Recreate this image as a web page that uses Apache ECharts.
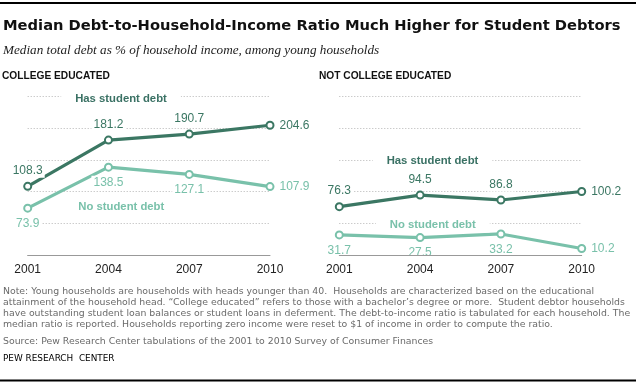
<!DOCTYPE html>
<html>
<head>
<meta charset="utf-8">
<script src="https://cdn.jsdelivr.net/npm/echarts@6/dist/echarts.min.js"></script>
<style>
html,body{margin:0;padding:0;background:#fff;}
#chart{width:636px;height:385px;}
</style>
</head>
<body>
<div id="chart"></div>
<script>
// ---- data ----
var years = ['2001', '2004', '2007', '2010'];
var collegeHasDebt = [108.3, 181.2, 190.7, 204.6];
var collegeNoDebt = [73.9, 138.5, 127.1, 107.9];
var nonCollegeHasDebt = [76.3, 94.5, 86.8, 100.2];
var nonCollegeNoDebt = [31.7, 27.5, 33.2, 10.2];
var seriesNames = ['Has student debt', 'No student debt'];
var yTicks = [0, 50, 100, 150, 200, 250];

var DARK = '#3b7763';
var LIGHT = '#79c1aa';
var SANS = '"Liberation Sans", Arial, sans-serif';

var chart = echarts.init(document.getElementById('chart'), null, {renderer: 'canvas'});

function lineSeries(name, data, color, idx, above) {
  return {
    name: name,
    type: 'line',
    xAxisIndex: idx,
    yAxisIndex: idx,
    data: data.map(function (v, i) {
      var last = i === data.length - 1;
      return {
        value: v,
        label: {position: last ? 'right' : (above ? 'top' : 'bottom'), distance: last ? 3 : 4}
      };
    }),
    lineStyle: {color: color, width: 3.2},
    itemStyle: {color: '#fff', borderColor: color, borderWidth: 2},
    symbol: 'circle',
    symbolSize: 7,
    showAllSymbol: true,
    z: 3,
    label: {
      show: true,
      color: color,
      fontFamily: SANS,
      fontSize: 12,
      backgroundColor: '#fff',
      padding: [1, 2],
      formatter: function (p) { return p.value.toFixed(1); }
    },
    animation: false
  };
}

function xAxis(idx) {
  return {
    type: 'category',
    gridIndex: idx,
    data: years,
    boundaryGap: false,
    z: 10,
    axisLine: {lineStyle: {color: '#999', width: 1}},
    axisTick: {show: false},
    axisLabel: {color: '#222', fontFamily: SANS, fontSize: 12, margin: 9}
  };
}
function yAxis(idx) {
  return {
    type: 'value',
    gridIndex: idx,
    min: yTicks[0],
    max: yTicks[yTicks.length - 1],
    interval: yTicks[1] - yTicks[0],
    axisLine: {show: false},
    axisTick: {show: false},
    axisLabel: {show: false},
    splitLine: {show: true, lineStyle: {color: '#b5b5b5', type: [1, 2], width: 1}}
  };
}

function txt(text, x, y, opts) {
  var s = Object.assign({
    text: text,
    x: x, y: y,
    fill: '#000',
    font: '12px ' + SANS,
    textAlign: 'left',
    textVerticalAlign: 'middle'
  }, opts || {});
  return {type: 'text', z: 50, style: s};
}

var notes = 'Note: Young households are households with heads younger than 40.  Households are characterized based on the educational\n' +
  'attainment of the household head. \u201cCollege educated\u201d refers to those with a bachelor\u2019s degree or more.  Student debtor households\n' +
  'have outstanding student loan balances or student loans in deferment. The debt-to-income ratio is tabulated for each household. The\n' +
  'median ratio is reported. Households reporting zero income were reset to $1 of income in order to compute the ratio.';

var option = {
  backgroundColor: '#fff',
  animation: false,
  grid: [
    {left: 27.7, top: 96.5, width: 242.3, height: 158.5},
    {left: 339.3, top: 96.5, width: 242.4, height: 158.5}
  ],
  xAxis: [xAxis(0), xAxis(1)],
  yAxis: [yAxis(0), yAxis(1)],
  series: [
    lineSeries(seriesNames[0], collegeHasDebt, DARK, 0, true),
    lineSeries(seriesNames[1], collegeNoDebt, LIGHT, 0, false),
    lineSeries(seriesNames[0], nonCollegeHasDebt, DARK, 1, true),
    lineSeries(seriesNames[1], nonCollegeNoDebt, LIGHT, 1, false)
  ],
  graphic: [
    {type: 'rect', z: 50, shape: {x: 0, y: 2, width: 636, height: 2}, style: {fill: '#000'}},
    {type: 'rect', z: 50, shape: {x: 0, y: 379.5, width: 636, height: 2}, style: {fill: '#000'}},
    txt('Median Debt-to-Household-Income Ratio Much Higher for Student Debtors', 3, 26,
      {font: 'bold 14.7px "DejaVu Sans", sans-serif', fill: '#111'}),
    txt('Median total debt as % of household income, among young households', 3, 51,
      {font: 'italic 13.2px "Liberation Serif", serif', fill: '#222'}),
    txt('COLLEGE EDUCATED', 2, 76, {font: 'bold 10.2px ' + SANS, fill: '#111'}),
    txt('NOT COLLEGE EDUCATED', 319, 76, {font: 'bold 10.2px ' + SANS, fill: '#111'}),
    txt(seriesNames[0], 121, 99, {font: 'bold 11.3px ' + SANS, fill: '#3a7164', textAlign: 'center', backgroundColor: '#fff', padding: [2, 14]}),
    txt(seriesNames[1], 121.3, 206.7, {font: 'bold 11.3px ' + SANS, fill: LIGHT, textAlign: 'center', backgroundColor: '#fff', padding: [2, 14]}),
    txt(seriesNames[0], 432.5, 161, {font: 'bold 11.3px ' + SANS, fill: '#3a7164', textAlign: 'center', backgroundColor: '#fff', padding: [2, 14]}),
    txt(seriesNames[1], 432.8, 225, {font: 'bold 11.3px ' + SANS, fill: LIGHT, textAlign: 'center', backgroundColor: '#fff', padding: [2, 14]}),
    txt(notes, 3, 286, {font: '9.35px "DejaVu Sans", sans-serif', fill: '#6a6a6a', textVerticalAlign: 'top', lineHeight: 11}),
    txt('Source: Pew Research Center tabulations of the 2001 to 2010 Survey of Consumer Finances', 3, 342,
      {font: '9.35px "DejaVu Sans", sans-serif', fill: '#6a6a6a'}),
    txt('PEW RESEARCH  CENTER', 3, 359, {font: '8.9px "DejaVu Sans", sans-serif', fill: '#000'})
  ]
};
chart.setOption(option);
</script>
</body>
</html>
